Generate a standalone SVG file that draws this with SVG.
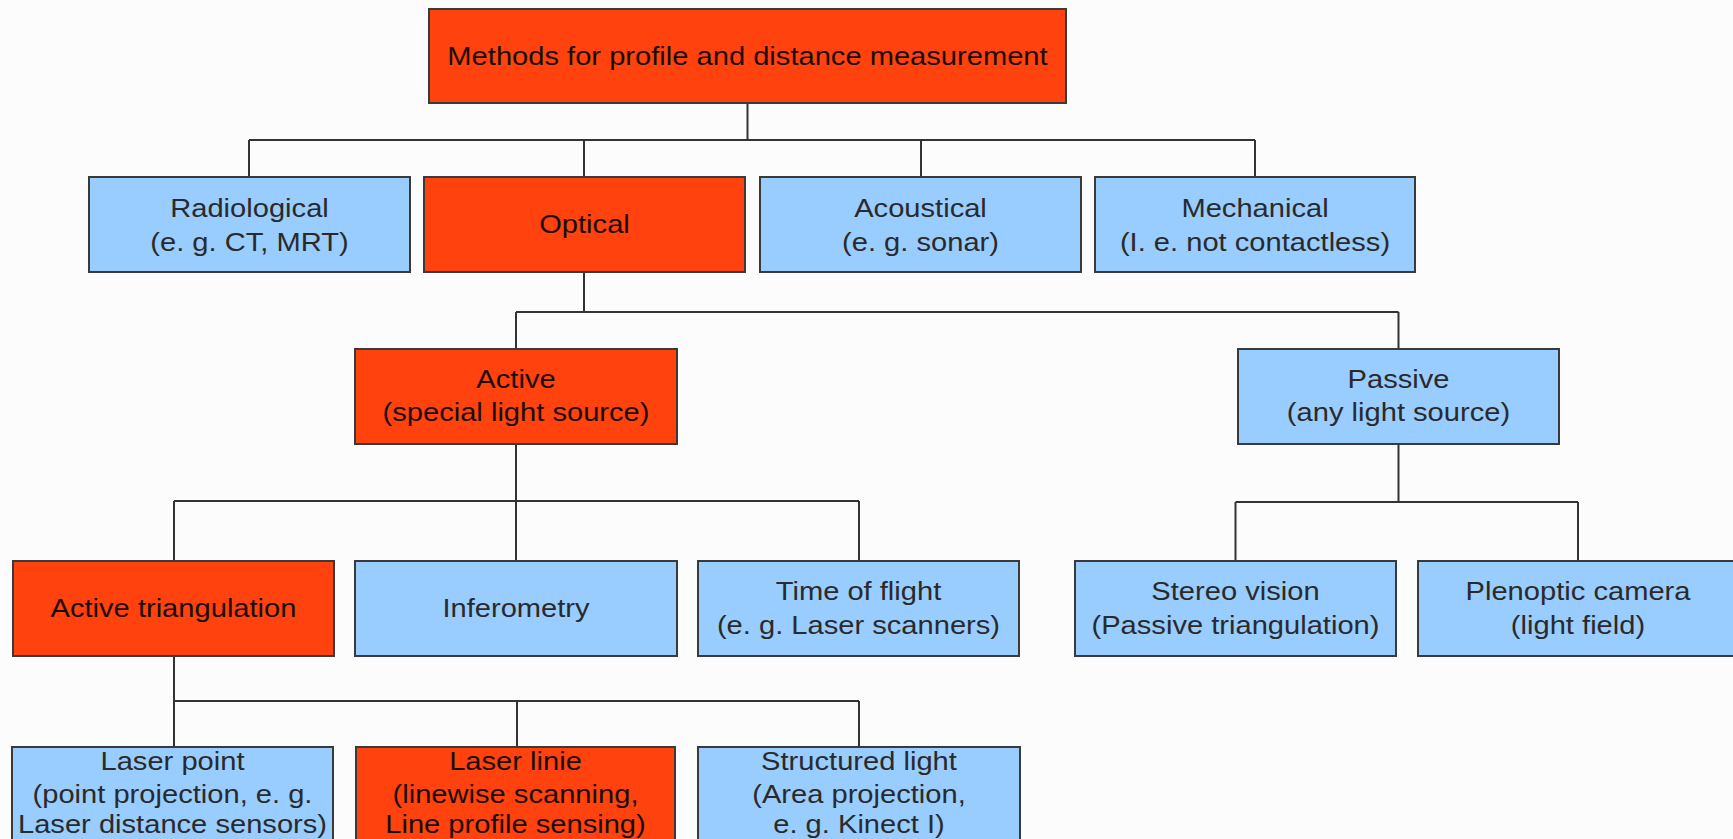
<svg xmlns="http://www.w3.org/2000/svg" width="1733" height="839" viewBox="0 0 1733 839">
<style>
.bg{fill:#fcfcfc}
.red{fill:#ff420e;stroke:#3a3a3a;stroke-width:2}
.blue{fill:#99ccff;stroke:#3a3a3a;stroke-width:2}
.conn{fill:none;stroke:#333;stroke-width:2}
text{font-family:"Liberation Sans",Arial,sans-serif;font-size:26px;text-anchor:middle}
.tr{fill:#1a0d08}
.tb{fill:#2a2a2a}
</style>
<rect class="bg" x="0" y="0" width="1733" height="839"/>
<g id="connectors">
<path class="conn" d="M747.5,103 V140 M249,140 H1255 M249,140 V177 M584,140 V177 M921,140 V177 M1255,140 V177"/>
<path class="conn" d="M584,272 V312 M516,312 H1398.5 M516,312 V349 M1398.5,312 V349"/>
<path class="conn" d="M516,444 V501 M174,501 H859 M174,501 V561 M516,501 V561 M859,501 V561"/>
<path class="conn" d="M1398.5,444 V502 M1235.5,502 H1578 M1235.5,502 V561 M1578,502 V561"/>
<path class="conn" d="M174,656 V701 M174,701 H859 M174,701 V747 M517,701 V747 M859,701 V747"/>
</g>
<g id="n-root"><rect class="red" x="429" y="9" width="637" height="94"/><text class="tr" transform="matrix(1.12 0 0 1 747.5 0)" x="0" y="65">Methods for profile and distance measurement</text></g>
<g id="n-radio"><rect class="blue" x="89" y="177" width="321" height="95"/><text class="tb" transform="matrix(1.12 0 0 1 249.5 0)" x="0" y="217">Radiological</text><text class="tb" transform="matrix(1.12 0 0 1 249.5 0)" x="0" y="251">(e. g. CT, MRT)</text></g>
<g id="n-optical"><rect class="red" x="424" y="177" width="321" height="95"/><text class="tr" transform="matrix(1.12 0 0 1 584.5 0)" x="0" y="233.5">Optical</text></g>
<g id="n-acoustical"><rect class="blue" x="760" y="177" width="321" height="95"/><text class="tb" transform="matrix(1.12 0 0 1 920.5 0)" x="0" y="217">Acoustical</text><text class="tb" transform="matrix(1.12 0 0 1 920.5 0)" x="0" y="251">(e. g. sonar)</text></g>
<g id="n-mechanical"><rect class="blue" x="1095" y="177" width="320" height="95"/><text class="tb" transform="matrix(1.12 0 0 1 1255 0)" x="0" y="217">Mechanical</text><text class="tb" transform="matrix(1.12 0 0 1 1255 0)" x="0" y="251">(I. e. not contactless)</text></g>
<g id="n-active"><rect class="red" x="355" y="349" width="322" height="95"/><text class="tr" transform="matrix(1.12 0 0 1 516 0)" x="0" y="388">Active</text><text class="tr" transform="matrix(1.12 0 0 1 516 0)" x="0" y="421">(special light source)</text></g>
<g id="n-passive"><rect class="blue" x="1238" y="349" width="321" height="95"/><text class="tb" transform="matrix(1.12 0 0 1 1398.5 0)" x="0" y="388">Passive</text><text class="tb" transform="matrix(1.12 0 0 1 1398.5 0)" x="0" y="421">(any light source)</text></g>
<g id="n-acttri"><rect class="red" x="13" y="561" width="321" height="95"/><text class="tr" transform="matrix(1.12 0 0 1 173.5 0)" x="0" y="617.5">Active triangulation</text></g>
<g id="n-infero"><rect class="blue" x="355" y="561" width="322" height="95"/><text class="tb" transform="matrix(1.12 0 0 1 516 0)" x="0" y="617.5">Inferometry</text></g>
<g id="n-tof"><rect class="blue" x="698" y="561" width="321" height="95"/><text class="tb" transform="matrix(1.12 0 0 1 858.5 0)" x="0" y="600">Time of flight</text><text class="tb" transform="matrix(1.12 0 0 1 858.5 0)" x="0" y="634">(e. g. Laser scanners)</text></g>
<g id="n-stereo"><rect class="blue" x="1075" y="561" width="321" height="95"/><text class="tb" transform="matrix(1.12 0 0 1 1235.5 0)" x="0" y="600">Stereo vision</text><text class="tb" transform="matrix(1.12 0 0 1 1235.5 0)" x="0" y="634">(Passive triangulation)</text></g>
<g id="n-plenoptic"><rect class="blue" x="1418" y="561" width="321" height="95"/><text class="tb" transform="matrix(1.12 0 0 1 1578 0)" x="0" y="600">Plenoptic camera</text><text class="tb" transform="matrix(1.12 0 0 1 1578 0)" x="0" y="634">(light field)</text></g>
<g id="n-laserpoint"><rect class="blue" x="12" y="747" width="321" height="96"/><text class="tb" transform="matrix(1.12 0 0 1 172.5 0)" x="0" y="770">Laser point</text><text class="tb" transform="matrix(1.12 0 0 1 172.5 0)" x="0" y="803">(point projection, e. g.</text><text class="tb" transform="matrix(1.12 0 0 1 172.5 0)" x="0" y="833">Laser distance sensors)</text></g>
<g id="n-laserlinie"><rect class="red" x="356" y="747" width="319" height="96"/><text class="tr" transform="matrix(1.12 0 0 1 515.5 0)" x="0" y="770">Laser linie</text><text class="tr" transform="matrix(1.12 0 0 1 515.5 0)" x="0" y="803">(linewise scanning,</text><text class="tr" transform="matrix(1.12 0 0 1 515.5 0)" x="0" y="833">Line profile sensing)</text></g>
<g id="n-structured"><rect class="blue" x="698" y="747" width="322" height="96"/><text class="tb" transform="matrix(1.12 0 0 1 859 0)" x="0" y="770">Structured light</text><text class="tb" transform="matrix(1.12 0 0 1 859 0)" x="0" y="803">(Area projection,</text><text class="tb" transform="matrix(1.12 0 0 1 859 0)" x="0" y="833">e. g. Kinect I)</text></g>
</svg>
